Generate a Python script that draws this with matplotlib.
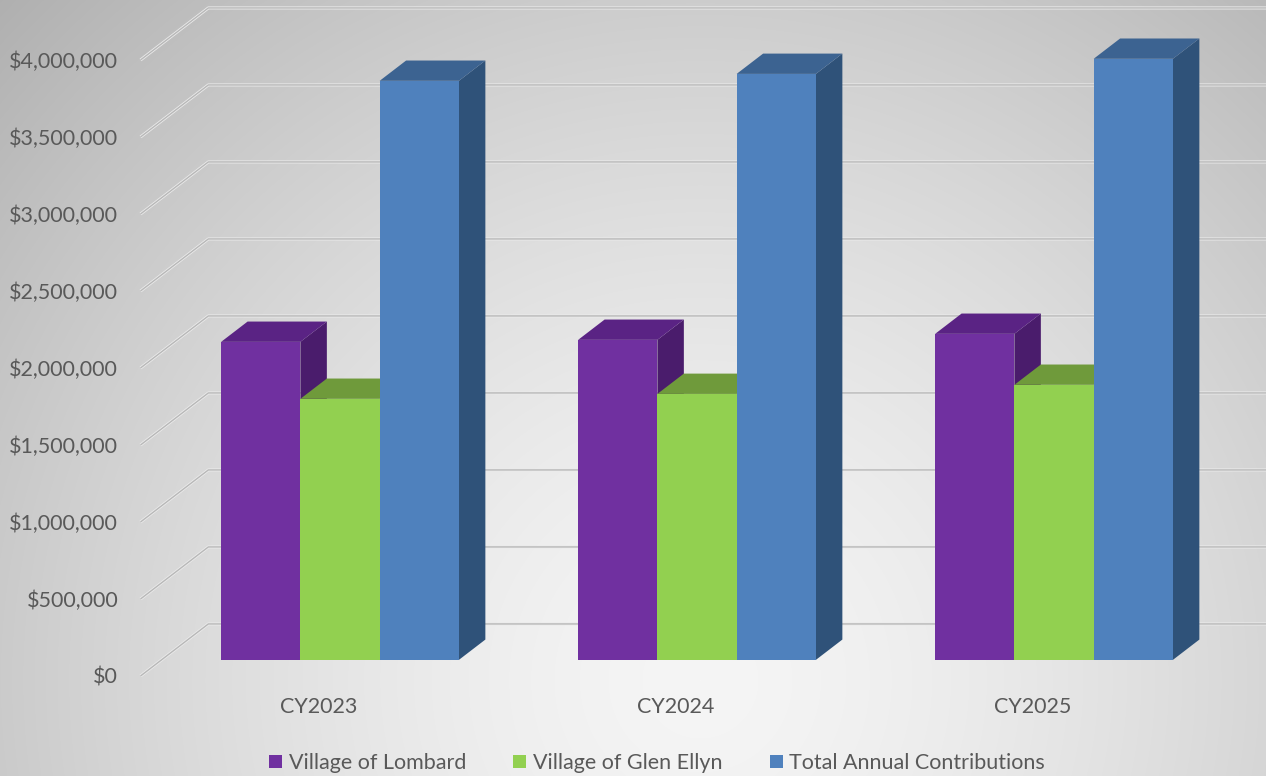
import matplotlib.pyplot as plt
from matplotlib.patches import Polygon, Patch
import numpy as np

years = ['CY2023', 'CY2024', 'CY2025']
series_names = ['Village of Lombard', 'Village of Glen Ellyn', 'Total Annual Contributions']
lombard = [2065000, 2078000, 2117000]
glen_ellyn = [1695000, 1727000, 1786000]
total = [3760000, 3805000, 3903000]
y_ticks = [0, 500000, 1000000, 1500000, 2000000, 2500000, 3000000, 3500000, 4000000]

# face colours: front, top, side
colors = [('#7030A0', '#5A2384', '#4A1C6C'),
          ('#92D050', '#6F9A3B', '#5E8432'),
          ('#4F81BD', '#3C6391', '#2F5279')]

# pseudo-3d geometry (data units)
depth_x = 0.19        # full floor depth along x
depth_y = 338000.     # full floor depth along y
front_frac = 0.31     # where the bar front sits in the depth
bar_frac = 0.39       # bar depth
bar_w = 0.222
group_off = -0.333

fig = plt.figure(figsize=(12.66, 7.76), dpi=100)
plt.rcParams['font.family'] = ['Lato', 'DejaVu Sans']
txt_color = '#595959'
fs = 15.5

# background radial gradient
bg = fig.add_axes([0, 0, 1, 1])
yy, xx = np.mgrid[0:776, 0:1266]
dist = np.hypot(xx - 700., yy - 680.)
shade = np.clip(245 - 0.00227 * dist ** 1.5, 160, 255) / 255.
bg.imshow(np.dstack([shade] * 3), aspect='auto', extent=[0, 1, 0, 1], origin='upper')
bg.set_axis_off()

ax = fig.add_axes([140.5 / 1266, 100. / 776, 1071. / 1266, 616. / 776])
ax.patch.set_alpha(0)
ax.set_xlim(-0.5, 2.5)
ax.set_ylim(0, 4000000)
for s in ax.spines.values():
    s.set_visible(False)

# gridlines: side wall diagonal then back wall
for v in y_ticks:
    xs = [-0.5, -0.5 + depth_x, 3.0]
    ys = [v, v + depth_y, v + depth_y]
    ax.plot(xs, ys, color='#ebebeb', lw=2.2, clip_on=False, zorder=1, solid_capstyle='butt')
    ax.plot(xs, ys, color='#b8b8b8', lw=1.0, clip_on=False, zorder=1.1, solid_capstyle='butt')

vals = [lombard, glen_ellyn, total]
z = 2
for i in range(len(years)):
    for j, v in enumerate(vals):
        x0 = i + group_off + j * bar_w + front_frac * depth_x
        y0 = front_frac * depth_y
        bx = bar_frac * depth_x
        by = bar_frac * depth_y
        front, top, side = colors[j]
        side_poly = Polygon([(x0 + bar_w, y0), (x0 + bar_w, y0 + v[i]),
                             (x0 + bar_w + bx, y0 + v[i] + by), (x0 + bar_w + bx, y0 + by)],
                            closed=True, facecolor=side, edgecolor='none', zorder=z, clip_on=False)
        top_poly = Polygon([(x0, y0 + v[i]), (x0 + bar_w, y0 + v[i]),
                            (x0 + bar_w + bx, y0 + v[i] + by), (x0 + bx, y0 + v[i] + by)],
                           closed=True, facecolor=top, edgecolor='none', zorder=z + 0.1, clip_on=False)
        ax.add_patch(side_poly)
        ax.add_patch(top_poly)
        ax.bar(x0, v[i], width=bar_w, bottom=y0, align='edge', color=front,
               edgecolor='none', zorder=z + 0.2, clip_on=False)
        z += 1

ax.set_yticks(y_ticks)
ax.set_yticklabels(['${:,.0f}'.format(t) for t in y_ticks])
ax.set_xticks(range(len(years)))
ax.set_xticklabels(years)
ax.tick_params(axis='y', length=0, pad=16, labelsize=fs, labelcolor=txt_color)
ax.tick_params(axis='x', length=0, pad=15, labelsize=fs, labelcolor=txt_color)

handles = [Patch(facecolor=c[0], edgecolor='none') for c in colors]
fig.legend(handles, series_names, loc='center', bbox_to_anchor=(657. / 1266, 13. / 776),
           ncol=3, frameon=False, fontsize=fs, labelcolor=txt_color,
           handlelength=0.6, handleheight=0.6, handletextpad=0.3, columnspacing=2.2)

fig.savefig('out.png', dpi=100)
